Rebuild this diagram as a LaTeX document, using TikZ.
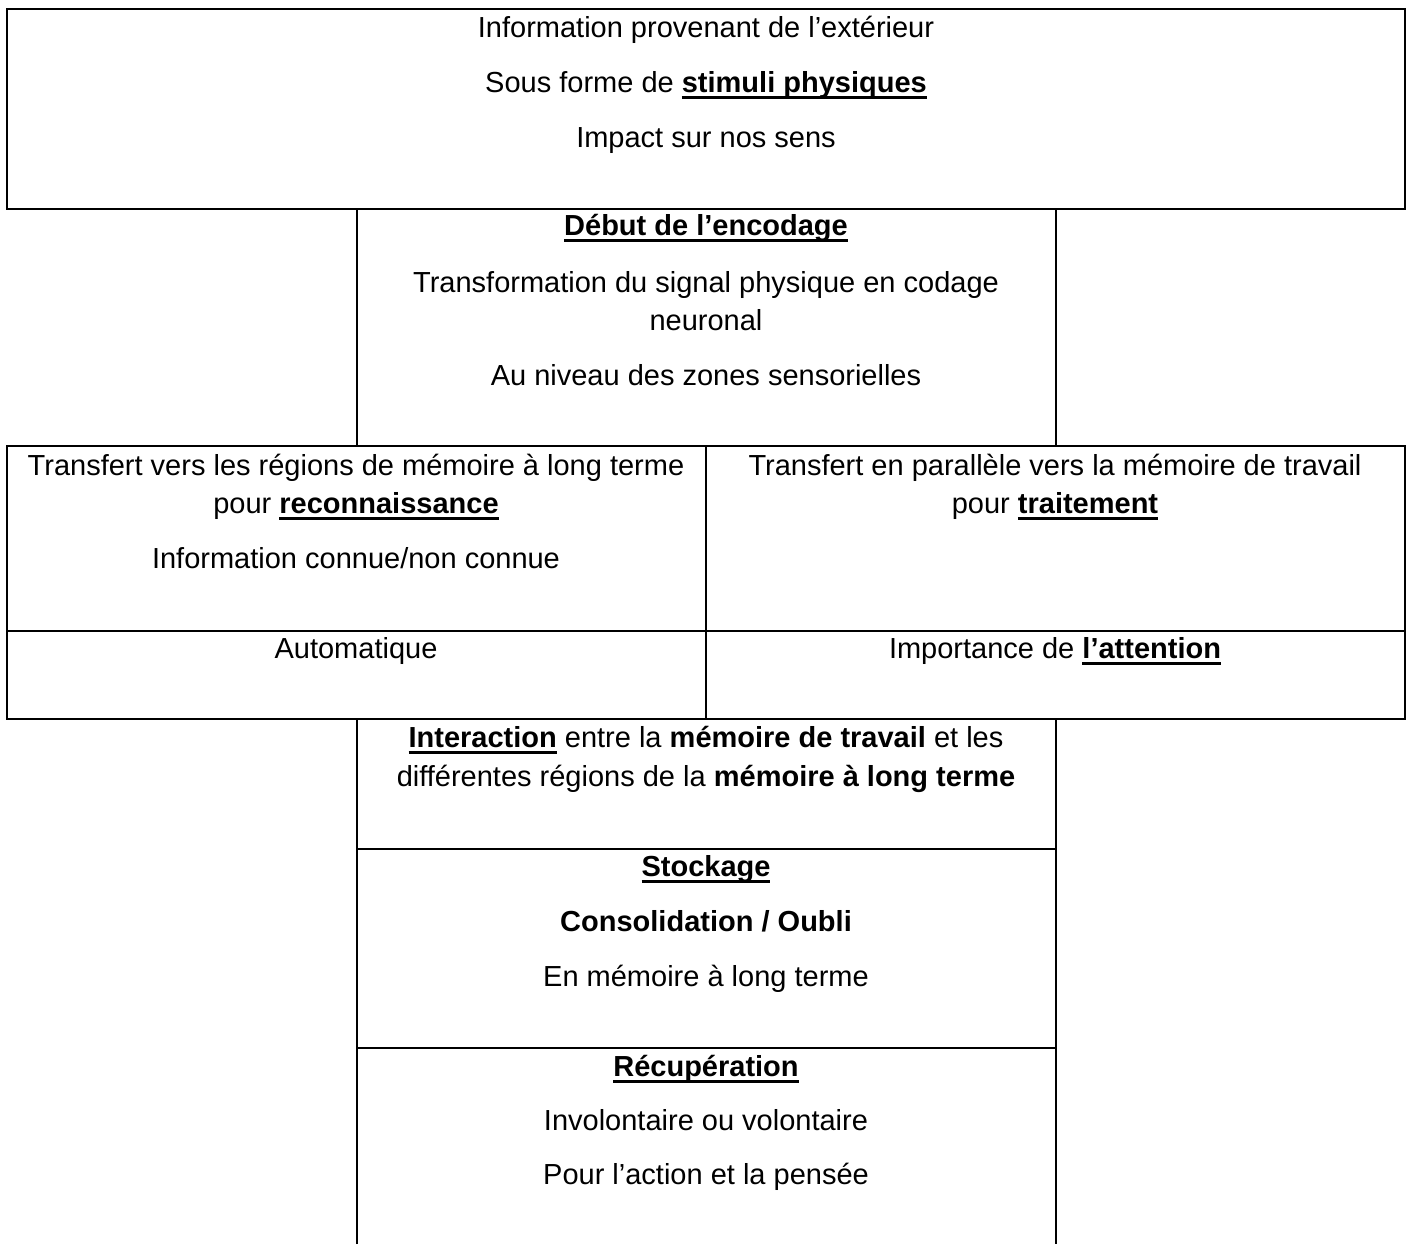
\documentclass[tikz,border=0pt]{standalone}
\usepackage{fontspec}
\setmainfont{Liberation Sans}
\newsavebox\ulbox
\newcommand{\ulb}[1]{\sbox\ulbox{\bfseries #1}\rlap{\rule[-0.25em]{\wd\ulbox}{0.11em}}\usebox\ulbox}
\begin{document}
\begin{tikzpicture}[x=0.5pt,y=-0.5pt,
  cell/.style={line width=0.9pt},
  txt/.style={anchor=base, inner sep=0pt, font=\fontsize{14.5}{19}\selectfont}]
\useasboundingbox (0,0) rectangle (1408,1244);
% boxes
\draw[cell] (7,9) rectangle (1405,209);
\draw[cell] (357,209) rectangle (1056,446);
\draw[cell] (7,446) rectangle (1405,719);
\draw[cell] (706,446) -- (706,719);
\draw[cell] (7,631) -- (1405,631);
\draw[cell] (357,719) rectangle (1056,1048);
\draw[cell] (357,849) -- (1056,849);
\draw[cell] (357,1244) -- (357,1048) -- (1056,1048) -- (1056,1244);
% box 1
\node[txt] (a1) at (706,37) {Information provenant de l’extérieur};
\node[txt] (a2) at (706,92) {Sous forme de \ulb{stimuli physiques}};
\node[txt] (a3) at (706,147) {Impact sur nos sens};
% box 2
\node[txt] (b1) at (706,235) {\ulb{Début de l’encodage}};
\node[txt] (b2) at (706,292) {Transformation du signal physique en codage};
\node[txt] (b3) at (706,330) {neuronal};
\node[txt] (b4) at (706,385) {Au niveau des zones sensorielles};
% row 3
\node[txt] (c1) at (356,475) {Transfert vers les régions de mémoire à long terme};
\node[txt] (c2) at (356,513) {pour \ulb{reconnaissance}};
\node[txt] (c3) at (356,568) {Information connue/non connue};
\node[txt] (d1) at (1055,475) {Transfert en parallèle vers la mémoire de travail};
\node[txt] (d2) at (1055,513) {pour \ulb{traitement}};
% row 4
\node[txt] (e1) at (356,658) {Automatique};
\node[txt] (f1) at (1055,658) {Importance de \ulb{l’attention}};
% box 5
\node[txt] (g1) at (706,747) {\ulb{Interaction} entre la \textbf{mémoire de travail} et les};
\node[txt] (g2) at (706,786) {différentes régions de la \textbf{mémoire à long terme}};
% box 6
\node[txt] (h1) at (706,876) {\ulb{Stockage}};
\node[txt] (h2) at (706,931) {\textbf{Consolidation / Oubli}};
\node[txt] (h3) at (706,986) {En mémoire à long terme};
% box 7
\node[txt] (k1) at (706,1076) {\ulb{Récupération}};
\node[txt] (k2) at (706,1130) {Involontaire ou volontaire};
\node[txt] (k3) at (706,1184) {Pour l’action et la pensée};
\end{tikzpicture}
\end{document}
